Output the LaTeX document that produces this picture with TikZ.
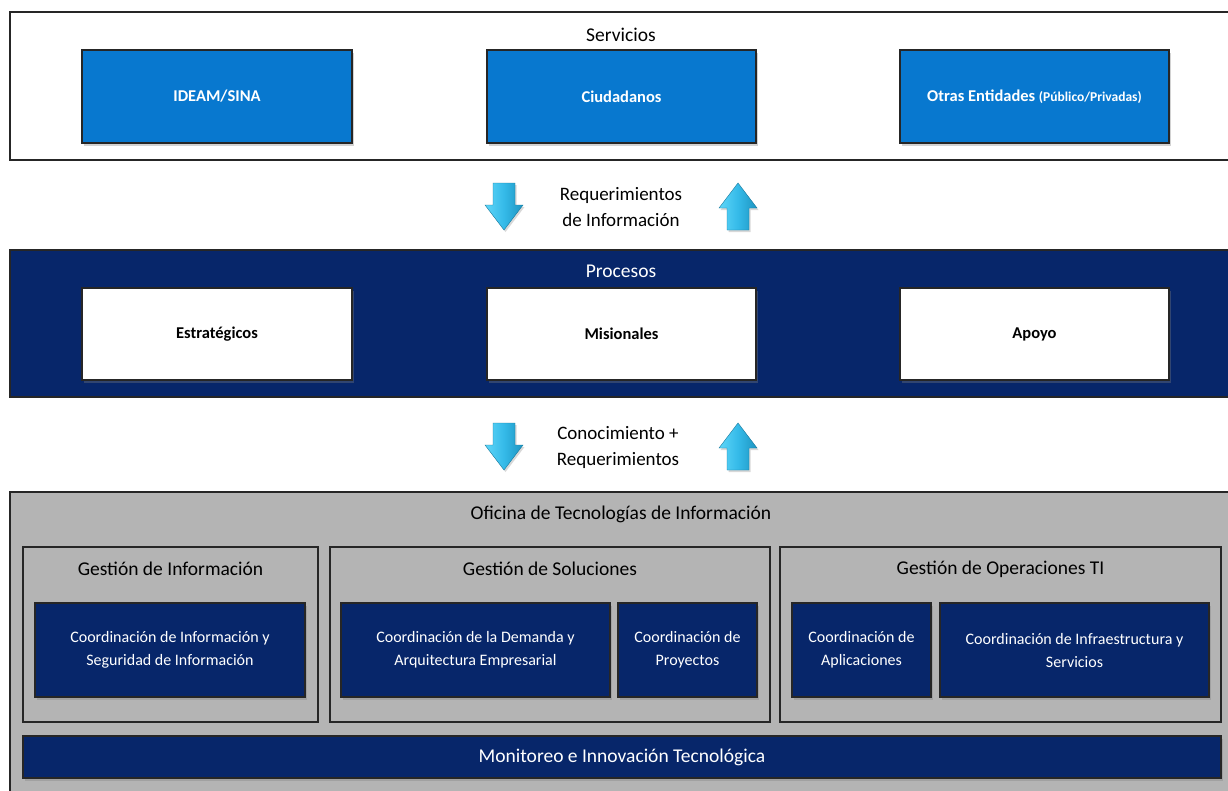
\documentclass[tikz,border=0pt]{standalone}
\usepackage{fontspec}
\setmainfont{Carlito}
\usetikzlibrary{shadows}
\definecolor{srvblue}{HTML}{0878CF}
\definecolor{navy}{HTML}{07266A}
\definecolor{panelgray}{HTML}{B4B4B4}
\definecolor{edge}{HTML}{262626}
\definecolor{arrowlight}{HTML}{5FD6F8}
\definecolor{arrowdark}{HTML}{22AEE2}
\tikzset{
  panel/.style={draw=edge, line width=1.5pt, inner sep=0pt},
  srvbox/.style={draw=edge, line width=1.5pt, fill=srvblue, text=white, font=\bfseries\fontsize{16.5}{19}\selectfont,
    drop shadow={shadow xshift=2pt, shadow yshift=-3pt, opacity=0.35}},
  procbox/.style={draw=edge, line width=1.5pt, fill=white, text=black, font=\bfseries\fontsize{16.5}{19}\selectfont,
    drop shadow={shadow xshift=2pt, shadow yshift=-3pt, opacity=0.35}},
  group/.style={draw=edge, line width=1.5pt, inner sep=0pt},
  coordbox/.style={draw=edge, line width=1.5pt, fill=navy, text=white, align=center,
    font=\fontsize{16}{23}\selectfont,
    drop shadow={shadow xshift=2pt, shadow yshift=-3pt, opacity=0.35}},
  title/.style={font=\fontsize{19.5}{22}\selectfont, text=black},
  flowtext/.style={font=\fontsize{19}{26}\selectfont, align=center, text=black},
  bigarrow/.style={draw=arrowdark!70!black, line width=0.4pt,
    left color=arrowlight, right color=arrowdark!85!black, middle color=arrowdark!70!arrowlight,
    drop shadow={shadow xshift=1.5pt, shadow yshift=-2pt, opacity=0.3}},
}
\begin{document}
\begin{tikzpicture}[x=1pt,y=-1pt]
\clip (0,0) rectangle (1228,790);
\fill[white] (0,0) rectangle (1228,790);

% Servicios panel
\node[panel, fill=white, minimum width=1225pt, minimum height=148pt] (srv) at (622.5,86) {};
\node[title] (srvt) at (621,35) {Servicios};
\node[srvbox, minimum width=270pt, minimum height=93pt] (ideam) at (217,96.5) {IDEAM/SINA};
\node[srvbox, minimum width=269pt, minimum height=93pt] (ciud) at (621.5,96.5) {Ciudadanos};
\node[srvbox, minimum width=269pt, minimum height=93pt] (otras) at (1034.5,96.5) {Otras Entidades {\fontsize{13.5}{16}\selectfont(Público/Privadas)}};

% arrows 1
\path[bigarrow, shift={(504,183)}] (-11,0) -- (11,0) -- (11,22) -- (19,22) -- (0,47) -- (-19,22) -- (-11,22) -- cycle;
\path[bigarrow, shift={(738,230)}] (-11,0) -- (11,0) -- (11,-22) -- (19,-22) -- (0,-47) -- (-19,-22) -- (-11,-22) -- cycle;
\node[flowtext] (t1) at (621,207) {Requerimientos\\de Información};

% Procesos panel
\node[panel, fill=navy, minimum width=1225pt, minimum height=147pt] (proc) at (622.5,323.5) {};
\node[title, text=white] (proct) at (621,271) {Procesos};
\node[procbox, minimum width=270pt, minimum height=92pt] (estr) at (217,334) {Estratégicos};
\node[procbox, minimum width=269pt, minimum height=92pt] (mis) at (621.5,334) {Misionales};
\node[procbox, minimum width=269pt, minimum height=92pt] (apoyo) at (1034.5,334) {Apoyo};

% arrows 2
\path[bigarrow, shift={(504,423)}] (-11,0) -- (11,0) -- (11,22) -- (19,22) -- (0,47) -- (-19,22) -- (-11,22) -- cycle;
\path[bigarrow, shift={(738,470)}] (-11,0) -- (11,0) -- (11,-22) -- (19,-22) -- (0,-47) -- (-19,-22) -- (-11,-22) -- cycle;
\node[flowtext] (t2) at (618,447) {Conocimiento +\\Requerimientos};

% Oficina panel
\node[panel, fill=panelgray, minimum width=1225pt, minimum height=303pt] (ofi) at (622.5,643.5) {};
\node[title] (ofit) at (621,514) {Oficina de Tecnologías de Información};

\node[group, minimum width=295pt, minimum height=175pt] (g1) at (170.5,634.5) {};
\node[group, minimum width=440pt, minimum height=175pt] (g2) at (550,634.5) {};
\node[group, minimum width=441pt, minimum height=175pt] (g3) at (1000.5,634.5) {};
\node[title] (g1t) at (170.5,569) {Gestión de Información};
\node[title] (g2t) at (550,569) {Gestión de Soluciones};
\node[title] (g3t) at (1000.5,569) {Gestión de Operaciones TI};

\node[coordbox, minimum width=270pt, minimum height=94pt] (c1) at (170,650) {Coordinación de Información y\\Seguridad de Información};
\node[coordbox, minimum width=269pt, minimum height=94pt] (c2) at (475.5,650) {Coordinación de la Demanda y\\Arquitectura Empresarial};
\node[coordbox, minimum width=139pt, minimum height=94pt] (c3) at (687.5,650) {Coordinación de\\Proyectos};
\node[coordbox, minimum width=139pt, minimum height=94pt] (c4) at (861.5,650) {Coordinación de\\Aplicaciones};
\node[coordbox, minimum width=269pt, minimum height=94pt] (c5) at (1074.5,650) {Coordinación de Infraestructura y\\Servicios};

\node[coordbox, minimum width=1198pt, minimum height=42pt, font=\fontsize{19.5}{22}\selectfont] (mon) at (622,757) {Monitoreo e Innovación Tecnológica};
\end{tikzpicture}
\end{document}
